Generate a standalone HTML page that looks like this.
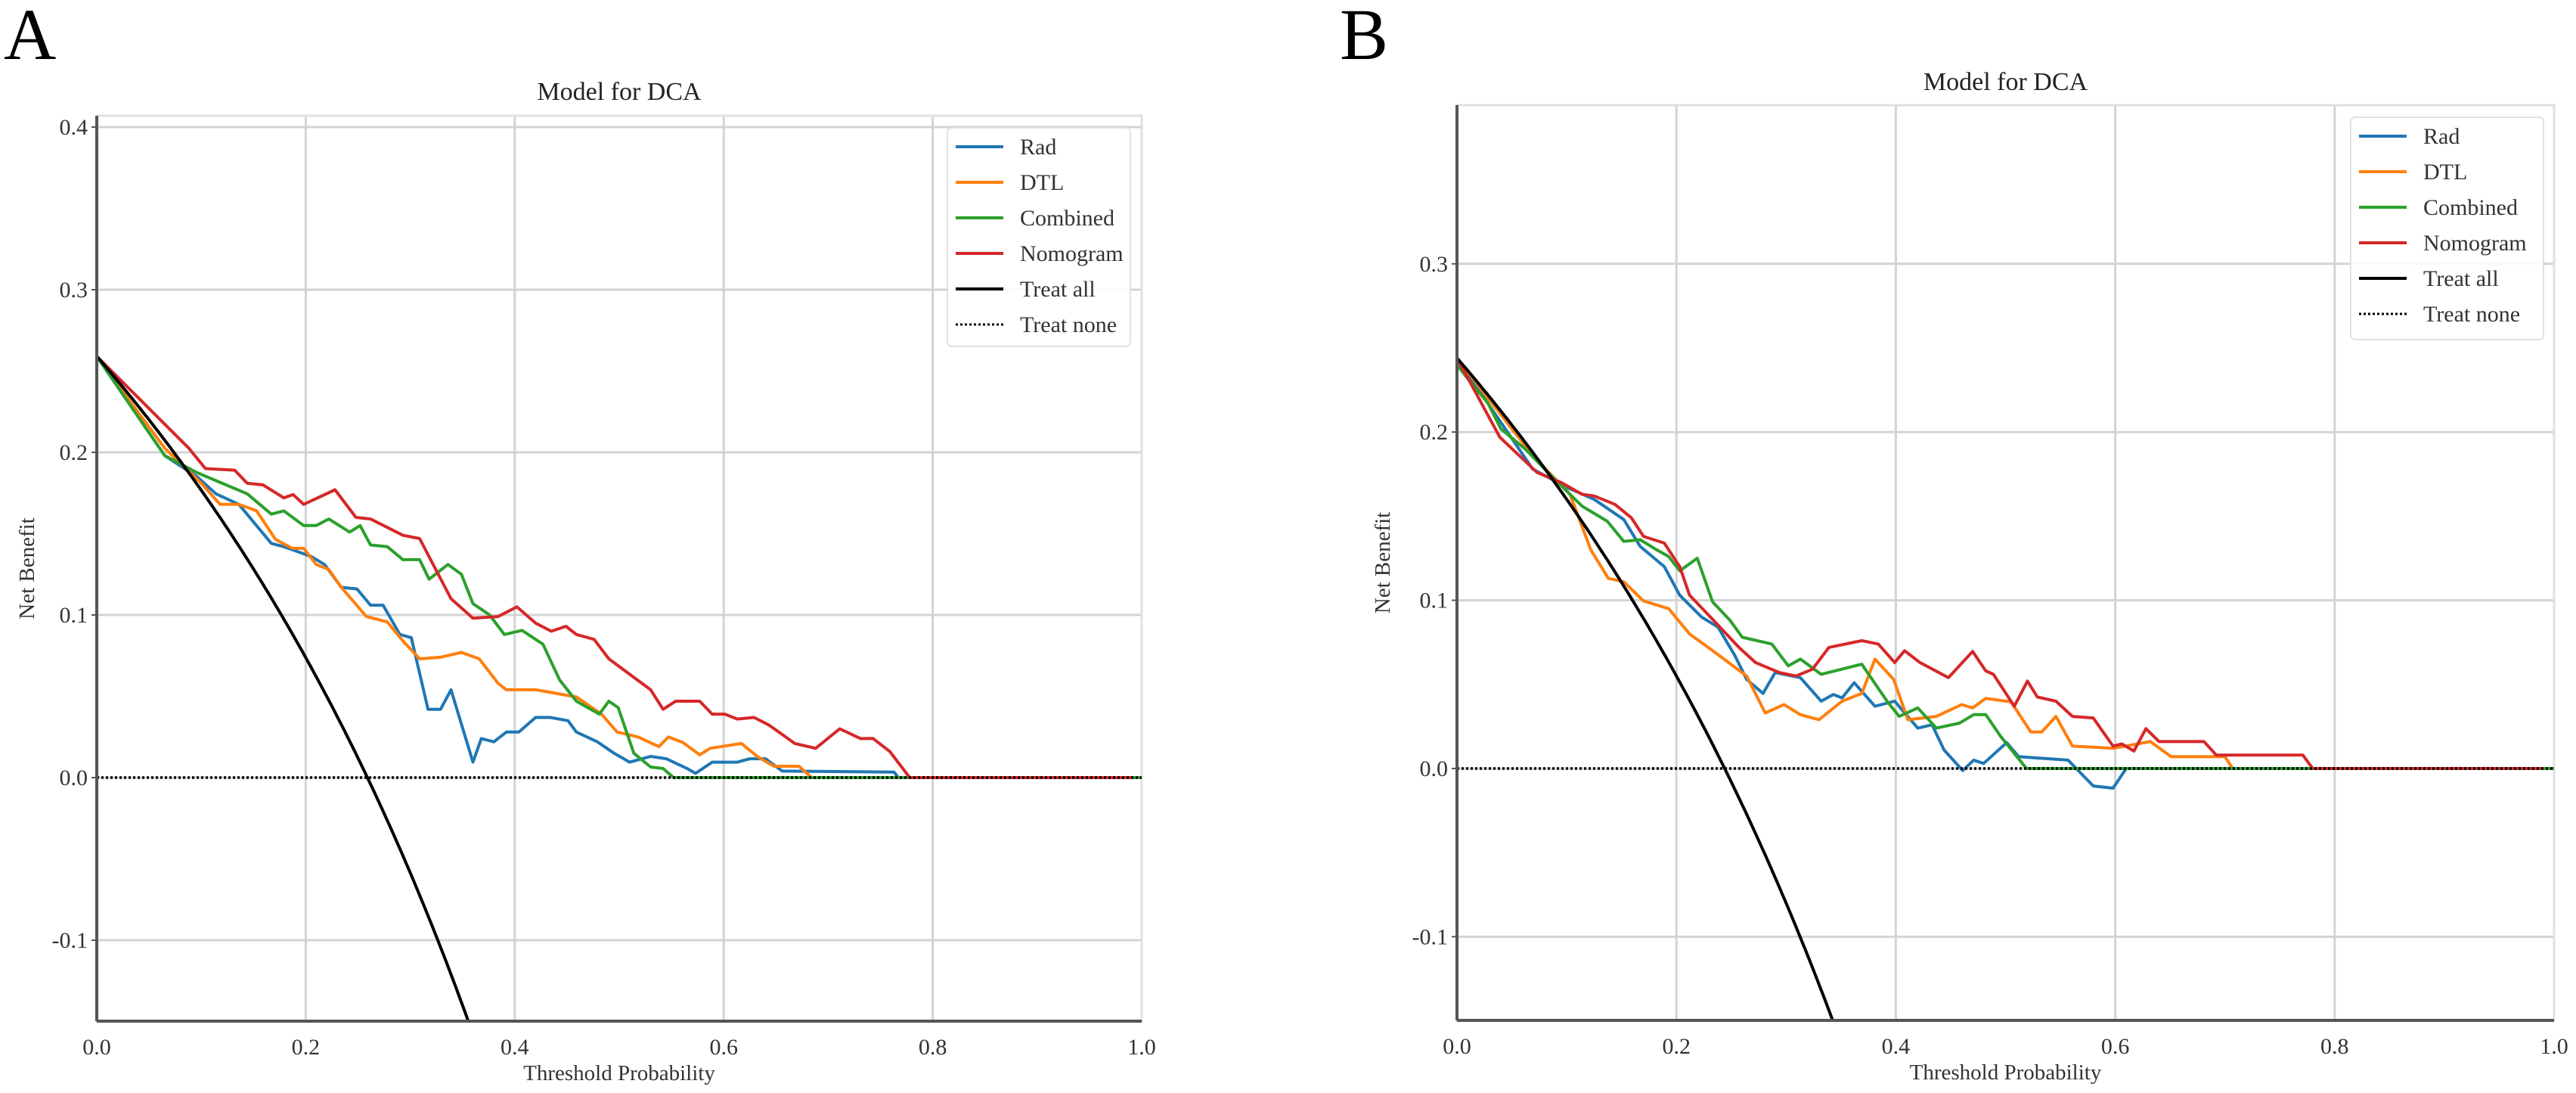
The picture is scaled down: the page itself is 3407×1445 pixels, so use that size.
<!DOCTYPE html>
<html><head><meta charset="utf-8"><style>
html,body{margin:0;padding:0;background:#fff;width:3407px;height:1445px;overflow:hidden;}
svg{display:block;font-family:"Liberation Serif",serif;}
</style></head><body>
<svg id="fig" width="3407" height="1445" viewBox="0 0 3407 1445" xmlns="http://www.w3.org/2000/svg"></svg>
<script>
// ---------- Data: Panel A ----------
const aRadX = [0,.065,.096,.114,.136,.167,.179,.205,.218,.234,.249,.262,.274,.29,.301,.317,.329,.339,.36,.368,.38,.392,.404,.42,.434,.451,.459,.479,.495,.51,.53,.545,.565,.573,.589,.613,.625,.64,.656,.763,.767,1.0];
const aRadY = [.259,.198,.185,.1745,.168,.144,.142,.136,.131,.117,.116,.106,.106,.088,.086,.042,.042,.054,.0095,.024,.022,.028,.028,.037,.037,.035,.028,.022,.015,.0095,.013,.0116,.0056,.0026,.0095,.0095,.0116,.0116,.004,.0034,0,0];
const aDtlX = [0,.065,.1,.118,.136,.153,.171,.187,.198,.21,.222,.234,.258,.278,.293,.309,.329,.349,.366,.384,.392,.42,.459,.483,.498,.518,.538,.547,.561,.577,.587,.617,.632,.648,.672,.684,1.0];
const aDtlY = [.259,.2026,.181,.168,.168,.164,.1465,.141,.141,.131,.128,.117,.099,.0957,.084,.073,.074,.077,.073,.058,.054,.054,.0496,.039,.028,.025,.019,.025,.0216,.014,.018,.021,.013,.007,.007,0,0];
const aComX = [0,.065,.096,.12,.144,.167,.179,.198,.21,.222,.242,.252,.262,.278,.293,.309,.318,.336,.349,.36,.376,.39,.407,.427,.443,.459,.481,.49,.499,.514,.53,.542,.552,1.0];
const aComY = [.259,.198,.1875,.181,.1745,.162,.164,.155,.155,.159,.151,.155,.143,.142,.134,.134,.122,.131,.125,.107,.100,.088,.0905,.082,.060,.047,.039,.047,.043,.015,.0065,.0056,0,0];
const aNomX = [0,.088,.104,.132,.144,.159,.179,.188,.198,.228,.248,.262,.293,.309,.339,.36,.384,.402,.42,.435,.449,.459,.476,.49,.53,.542,.554,.577,.589,.601,.613,.629,.644,.668,.688,.711,.731,.743,.759,.778,.99];
const aNomY = [.259,.2026,.190,.189,.181,.180,.172,.174,.168,.177,.160,.159,.149,.147,.110,.098,.099,.105,.095,.090,.093,.088,.085,.073,.054,.042,.047,.047,.039,.039,.036,.037,.032,.021,.018,.030,.024,.024,.016,0,0];
const aPrevalence = 0.259;
// ---------- Data: Panel B ----------
const bRadX = [0,.069,.099,.125,.152,.167,.189,.203,.223,.238,.253,.264,.279,.29,.313,.332,.343,.351,.362,.381,.399,.42,.433,.444,.461,.471,.48,.501,.512,.557,.58,.598,.61,1.0];
const bRadY = [.244,.178,.1675,.160,.148,.132,.12,.103,.090,.084,.0675,.053,.0446,.057,.054,.040,.044,.042,.051,.037,.040,.024,.026,.011,-.0012,.005,.003,.0154,.007,.005,-.0104,-.0117,0,0];
const bDtlX = [0,.069,.103,.122,.138,.152,.17,.193,.212,.234,.264,.281,.298,.313,.33,.351,.369,.381,.398,.411,.437,.46,.47,.482,.505,.523,.533,.546,.561,.598,.632,.651,.7,.707,1.0];
const bDtlY = [.244,.186,.163,.130,.113,.111,.0996,.095,.080,.0696,.055,.033,.038,.032,.029,.040,.0446,.065,.053,.029,.031,.038,.036,.0417,.0396,.0217,.0217,.031,.0133,.012,.016,.007,.007,0,0];
const bComX = [0,.013,.028,.04,.062,.092,.114,.137,.152,.167,.182,.193,.203,.219,.233,.249,.26,.287,.302,.313,.332,.369,.392,.403,.42,.437,.458,.471,.482,.495,.519,1.0];
const bComY = [.24,.229,.2175,.202,.19,.17,.156,.147,.135,.136,.13,.126,.1175,.125,.099,.088,.078,.074,.061,.065,.056,.062,.040,.031,.036,.024,.027,.032,.032,.0196,0,0];
const bNomX = [0,.039,.073,.095,.114,.125,.144,.159,.17,.189,.203,.212,.234,.257,.272,.294,.309,.324,.339,.369,.384,.399,.408,.422,.448,.47,.482,.489,.508,.52,.529,.546,.561,.58,.598,.606,.617,.628,.64,.681,.692,.771,.78,.99];
const bNomY = [.244,.197,.176,.170,.163,.162,.157,.149,.138,.134,.120,.103,.088,.072,.063,.057,.055,.059,.072,.076,.074,.063,.070,.063,.054,.0696,.058,.056,.037,.052,.0425,.040,.031,.030,.0133,.0146,.0104,.0237,.016,.016,.008,.008,0,0];
const bPrevalence = 0.244;

const xTicks = [0,0.2,0.4,0.6,0.8,1.0];
const xTickLabels = ["0.0","0.2","0.4","0.6","0.8","1.0"];
const aYTicks = [-0.1,0,0.1,0.2,0.3,0.4];
const aYTickLabels = ["-0.1","0.0","0.1","0.2","0.3","0.4"];
const bYTicks = [-0.1,0,0.1,0.2,0.3];
const bYTickLabels = ["-0.1","0.0","0.1","0.2","0.3"];
const seriesNames = ["Rad","DTL","Combined","Nomogram","Treat all","Treat none"];

const NS = "http://www.w3.org/2000/svg";
const svg = document.getElementById('fig');
function mk(tag, attrs, parent){
  const e = document.createElementNS(NS, tag);
  for (const k in attrs) e.setAttribute(k, attrs[k]);
  (parent||svg).appendChild(e);
  return e;
}
const COLORS = ["#1f77b4","#ff7f0e","#2ca02c","#d62728","#000000","#000000"];

function panel(cfg){
  const g = mk('g', {});
  
  
  const sx = v => cfg.x0 + (v - 0) / (1 - 0) * (cfg.x1 - cfg.x0);
  const sy = v => cfg.y0 - v * cfg.pxPerUnit;
  const yTop = cfg.top, yBot = cfg.bottom;
  const yMin = (cfg.y0 - yBot) / cfg.pxPerUnit;
  const L = mk('text', {x: cfg.letterX, y: 78, 'font-size': 96, fill: '#000'}, g);
  L.textContent = cfg.letter;
  
  
  const T = mk('text', {x: (cfg.x0+cfg.x1)/2, y: cfg.titleY, 'font-size': 34, 'text-anchor': 'middle', fill: '#222'}, g);
  T.textContent = "Model for DCA";
  
  
  xTicks.forEach((t,i) => {
    const gl = mk('line', {x1: sx(t), x2: sx(t), y1: yTop, y2: yBot, stroke: '#d3d3d3', 'stroke-width': 3}, g);
    
    
    const tl = mk('text', {x: sx(t), y: yBot + 44, 'font-size': 30, 'text-anchor': 'middle', fill: '#333'}, g);
    tl.textContent = xTickLabels[i];
    
    
  });
  cfg.yTicks.forEach((t,i) => {
    const gl = mk('line', {x1: cfg.x0, x2: cfg.x1, y1: sy(t), y2: sy(t), stroke: '#d3d3d3', 'stroke-width': 3}, g);
    
    
    const tk = mk('line', {x1: cfg.x0-7, x2: cfg.x0, y1: sy(t), y2: sy(t), stroke: '#555', 'stroke-width': 2}, g);
    
    
    const tl = mk('text', {x: cfg.x0 - 12, y: sy(t) + 10, 'font-size': 30, 'text-anchor': 'end', fill: '#333'}, g);
    tl.textContent = cfg.yTickLabels[i];
    
    
  });
  const fr = mk('rect', {x: cfg.x0, y: yTop, width: cfg.x1-cfg.x0, height: yBot-yTop, fill: 'none', stroke: '#e0e0e0', 'stroke-width': 3}, g);
  
  
  const cp = mk('clipPath', {id: cfg.id + 'clip'}, g);
  mk('rect', {x: cfg.x0, y: yTop, width: cfg.x1-cfg.x0, height: yBot-yTop}, cp);
  const lines = mk('g', {'clip-path': 'url(#' + cfg.id + 'clip)'}, g);
  cfg.series.forEach((s, i) => {
    const d = s[0].map((xv, j) => (j ? 'L' : 'M') + sx(xv).toFixed(1) + ' ' + sy(s[1][j]).toFixed(1)).join(' ');
    const p = mk('path', {d: d, fill: 'none', stroke: COLORS[i], 'stroke-width': 4, 'stroke-linejoin': 'round'}, lines);
    
    
  });
  const tEnd = (cfg.prev - yMin) / (1 - yMin);
  let d = '';
  for (let k = 0; k <= 150; k++) {
    const t = k / 150 * tEnd;
    const nb = cfg.prev - (1 - cfg.prev) * t / (1 - t);
    d += (k ? 'L' : 'M') + sx(t).toFixed(1) + ' ' + sy(nb).toFixed(1) + ' ';
  }
  const ta = mk('path', {d: d, fill: 'none', stroke: '#000', 'stroke-width': 4}, lines);
  
  
  const tn = mk('line', {x1: sx(0), x2: sx(1), y1: sy(0), y2: sy(0), stroke: '#000', 'stroke-width': 3.5, 'stroke-dasharray': '3 3'}, lines);
  
  
  const ls = mk('line', {x1: cfg.x0, x2: cfg.x0, y1: yTop, y2: yBot, stroke: '#555', 'stroke-width': 4}, g);
  
  
  const bs = mk('line', {x1: cfg.x0, x2: cfg.x1, y1: yBot, y2: yBot, stroke: '#555', 'stroke-width': 4}, g);
  
  
  const xl = mk('text', {x: (cfg.x0+cfg.x1)/2, y: yBot + 78, 'font-size': 29, 'text-anchor': 'middle', fill: '#333'}, g);
  xl.textContent = "Threshold Probability";
  
  
  const yl = mk('text', {x: 0, y: 0, 'font-size': 29, 'text-anchor': 'middle', fill: '#333', transform: 'translate(' + cfg.ylabX + ',' + ((yTop+yBot)/2) + ') rotate(-90)'}, g);
  yl.textContent = "Net Benefit";
  
  
  const lg = mk('g', {}, g);
  
  
  mk('rect', {x: cfg.lgX, y: cfg.lgY, width: cfg.lgW, height: cfg.lgH, rx: 6, fill: '#fff', 'fill-opacity': 0.85, stroke: '#e2e2e2', 'stroke-width': 2}, lg);
  seriesNames.forEach((n, i) => {
    const ey = cfg.lgY + 25 + i * 47;
    const ent = mk('g', {}, lg);
    
    
    const attrs = {x1: cfg.lgX + 11, x2: cfg.lgX + 74, y1: ey, y2: ey, stroke: COLORS[i], 'stroke-width': 4};
    if (i === 5) { attrs['stroke-dasharray'] = '3 3'; attrs['stroke-width'] = 3; }
    mk('line', attrs, ent);
    const t = mk('text', {x: cfg.lgX + 96, y: ey + 10, 'font-size': 30, fill: '#333'}, ent);
    t.textContent = n;
  });
}

panel({id: 'a', letter: 'A', letterX: 5, x0: 128, x1: 1510, y0: 1028, pxPerUnit: 2150, top: 153, bottom: 1350,
  titleY: 132, ylabX: 45, yTicks: aYTicks, yTickLabels: aYTickLabels, prev: aPrevalence,
  lgX: 1253, lgY: 169, lgW: 242, lgH: 289,
  series: [[aRadX,aRadY],[aDtlX,aDtlY],[aComX,aComY],[aNomX,aNomY]]});
panel({id: 'b', letter: 'B', letterX: 1772, x0: 1927, x1: 3378, y0: 1016, pxPerUnit: 2224, top: 139, bottom: 1349,
  titleY: 119, ylabX: 1838, yTicks: bYTicks, yTickLabels: bYTickLabels, prev: bPrevalence,
  lgX: 3109, lgY: 155, lgW: 255, lgH: 294,
  series: [[bRadX,bRadY],[bDtlX,bDtlY],[bComX,bComY],[bNomX,bNomY]]});
</script>
</body></html>
